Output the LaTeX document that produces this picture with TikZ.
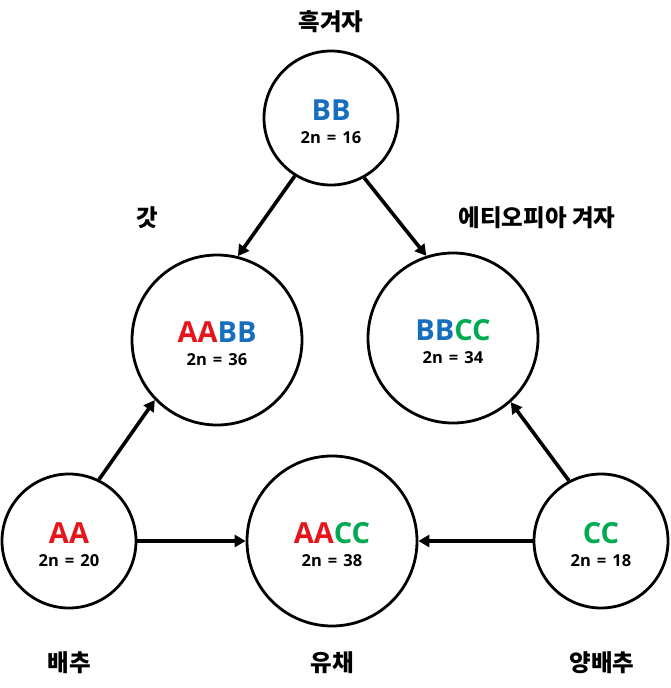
\documentclass[tikz,border=0pt]{standalone}
\usepackage{fontspec}
\setmainfont{Open Sans}
\newfontfamily\kr{Noto Sans CJK KR}
\usetikzlibrary{arrows.meta,calc}
\definecolor{cred}{RGB}{232,20,28}
\definecolor{cblue}{RGB}{22,110,190}
\definecolor{cgreen}{RGB}{0,170,80}
\newcommand{\cn}[1]{2n\hspace{6pt}=\hspace{6pt}#1}
\tikzset{
  bigc/.style={circle,draw=black,line width=2.8pt,minimum size=170pt,inner sep=0pt},
  smallc/.style={circle,draw=black,line width=2.8pt,minimum size=134pt,inner sep=0pt},
  gname/.style={font=\fontsize{29}{31}\selectfont\bfseries,inner sep=0pt},
  chrom/.style={font=\fontsize{16.5}{18}\selectfont\bfseries,inner sep=0pt},
  krlab/.style={font=\kr\fontsize{23.5}{25}\selectfont\bfseries,inner sep=0pt},
  arr/.style={line width=3.6pt,-{Triangle[length=11pt,width=12pt]}}
}
\begin{document}
\begin{tikzpicture}[x=1pt,y=-1pt]
\useasboundingbox (0,0) rectangle (670,688);
% circles
\node[smallc] (bb) at (331,118) {};
\node[bigc] (aabb) at (217,340) {};
\node[bigc] (bbcc) at (453,338) {};
\node[smallc] (aa) at (69,541) {};
\node[bigc] (aacc) at (332,541) {};
\node[smallc] (cc) at (601,541) {};
% genome texts
\node[gname] (bbt) at ($(bb)+(0,-8)$) {\textcolor{cblue}{BB}};
\node[chrom] (bbn) at ($(bb)+(0,20)$) {\cn{16}};
\node[gname] (aabbt) at ($(aabb)+(0,-8)$) {\textcolor{cred}{AA}\textcolor{cblue}{BB}};
\node[chrom] (aabbn) at ($(aabb)+(0,20)$) {\cn{36}};
\node[gname] (bbcct) at ($(bbcc)+(0,-8)$) {\textcolor{cblue}{BB}\textcolor{cgreen}{CC}};
\node[chrom] (bbccn) at ($(bbcc)+(0,20)$) {\cn{34}};
\node[gname] (aat) at ($(aa)+(0,-8)$) {\textcolor{cred}{AA}};
\node[chrom] (aan) at ($(aa)+(0,20)$) {\cn{20}};
\node[gname] (aacct) at ($(aacc)+(0,-8)$) {\textcolor{cred}{AA}\textcolor{cgreen}{CC}};
\node[chrom] (aaccn) at ($(aacc)+(0,20)$) {\cn{38}};
\node[gname] (cct) at ($(cc)+(0,-8)$) {\textcolor{cgreen}{CC}};
\node[chrom] (ccn) at ($(cc)+(0,20)$) {\cn{18}};
% species labels
\node[krlab] (l1) at (331,22) {흑겨자};
\node[krlab] (l2) at (147,218) {갓};
\node[krlab] (l3) at (537,218) {에티오피아 겨자};
\node[krlab] (l4) at (69,663) {배추};
\node[krlab] (l5) at (332,663) {유채};
\node[krlab] (l6) at (602,663) {양배추};
% arrows
\draw[arr] (bb.238) -- (aabb.76);
\draw[arr] (bb.299) -- (bbcc.108);
\draw[arr] (aa.64) -- (aabb.224);
\draw[arr] (cc.118) -- (bbcc.312);
\draw[arr] (aa.east) -- (aacc.west);
\draw[arr] (cc.west) -- (aacc.east);
\end{tikzpicture}
\end{document}
